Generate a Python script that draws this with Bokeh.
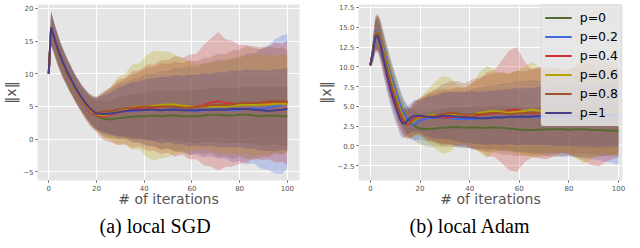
from bokeh.plotting import figure
from bokeh.layouts import row
from bokeh.models import FixedTicker, Title, Legend, LegendItem, Range1d
from bokeh.embed import file_html
from bokeh.resources import INLINE

# ---------------- data ----------------
iterations = [0, 1, 2, 3, 4, 5, 6, 7, 8, 9, 10, 11, 12, 13, 14, 15, 16, 17, 18, 19,
              20, 23, 26, 29, 32, 35, 38, 41, 44, 47, 50, 53, 56, 59, 62, 65, 68, 71,
              74, 77, 80, 83, 86, 89, 92, 95, 98, 100]

series_labels = ["p=0", "p=0.2", "p=0.4", "p=0.6", "p=0.8", "p=1"]
series_colors = ["#556b2f", "#4169e1", "#cd3333", "#b5a400", "#a0522d", "#483d8b"]

# (a) local SGD : mean of ||x|| per iteration
sgd_mean_p0 = [10.0, 16.8, 15.6, 14.4, 13.3, 12.3, 11.4, 10.6, 9.8, 9.1, 8.4, 7.7, 7.1, 6.5, 5.9, 5.4, 4.9, 4.5, 4.1, 3.8,
               3.6, 3.1, 3.0, 3.2, 3.3, 3.4, 3.5, 3.5, 3.6, 3.5, 3.6, 3.6, 3.5, 3.5, 3.5, 3.6, 3.7, 3.7, 3.6, 3.6,
               3.7, 3.7, 3.6, 3.5, 3.6, 3.6, 3.5, 3.5]
sgd_mean_p02 = [10.0, 17.0, 15.8, 14.6, 13.5, 12.5, 11.6, 10.8, 10.0, 9.3, 8.6, 7.9, 7.3, 6.7, 6.1, 5.6, 5.1, 4.7, 4.3, 4.0,
                3.9, 3.8, 4.0, 4.2, 4.3, 4.3, 4.4, 4.5, 4.5, 4.4, 4.5, 4.6, 4.5, 4.4, 4.3, 4.4, 4.5, 4.6, 4.5, 4.4,
                4.5, 4.6, 4.7, 4.6, 4.8, 5.0, 5.3, 5.8]
sgd_mean_p04 = [10.0, 16.9, 15.7, 14.5, 13.4, 12.4, 11.5, 10.7, 9.9, 9.2, 8.5, 7.8, 7.1, 6.5, 5.9, 5.3, 4.8, 4.3, 4.0, 3.8,
                3.6, 3.4, 3.7, 4.1, 4.3, 4.5, 4.7, 4.8, 4.8, 4.9, 5.0, 5.0, 5.0, 4.9, 5.0, 5.2, 5.6, 5.8, 5.5, 5.4,
                5.3, 5.4, 5.5, 5.3, 5.5, 5.6, 5.5, 5.6]
sgd_mean_p06 = [10.0, 16.9, 15.7, 14.5, 13.4, 12.4, 11.5, 10.7, 9.9, 9.2, 8.5, 7.8, 7.2, 6.6, 6.0, 5.5, 5.0, 4.6, 4.2, 4.0,
                3.8, 3.6, 3.9, 4.3, 4.6, 4.9, 5.0, 5.0, 5.1, 5.2, 5.3, 5.3, 5.1, 5.0, 4.9, 5.0, 5.0, 5.0, 5.0, 5.1,
                5.2, 5.3, 5.2, 5.3, 5.3, 5.4, 5.4, 5.4]
sgd_mean_p08 = [10.0, 17.0, 15.8, 14.6, 13.5, 12.5, 11.6, 10.8, 10.0, 9.3, 8.6, 7.9, 7.3, 6.7, 6.2, 5.7, 5.2, 4.8, 4.5, 4.2,
                4.0, 4.2, 4.3, 4.5, 4.7, 4.8, 4.9, 5.0, 4.9, 5.0, 5.0, 4.9, 4.8, 4.8, 4.9, 5.0, 5.2, 5.2, 5.2, 5.3,
                5.5, 5.6, 5.5, 5.6, 5.8, 5.8, 5.8, 5.8]
sgd_mean_p1 = [10.0, 17.1, 15.9, 14.7, 13.6, 12.6, 11.7, 10.9, 10.1, 9.4, 8.7, 8.0, 7.4, 6.8, 6.2, 5.7, 5.2, 4.8, 4.4, 4.1,
               3.9, 3.8, 3.9, 4.1, 4.3, 4.4, 4.4, 4.5, 4.5, 4.4, 4.5, 4.5, 4.4, 4.4, 4.4, 4.5, 4.5, 4.5, 4.5, 4.6,
               4.6, 4.6, 4.5, 4.4, 4.3, 4.4, 4.5, 4.6]

# (a) local SGD : standard deviation (half width of shaded band)
sgd_std_p0 = [0.1, 2.3, 2.2, 2.2, 2.1, 2.1, 2.0, 2.0, 1.9, 1.9, 1.9, 1.9, 1.9, 1.9, 1.9, 2.0, 2.0, 2.1, 2.1, 2.2,
              2.3, 2.7, 2.9, 3.2, 3.3, 3.5, 3.4, 3.6, 3.8, 3.7, 3.9, 3.8, 4.0, 3.9, 4.1, 4.0, 4.2, 4.1, 4.3, 4.2,
              4.2, 4.4, 4.3, 4.5, 4.4, 4.4, 4.6, 4.5]
sgd_std_p02 = [0.1, 2.5, 2.4, 2.3, 2.3, 2.2, 2.2, 2.1, 2.1, 2.1, 2.0, 2.0, 2.0, 2.0, 2.0, 2.1, 2.1, 2.2, 2.3, 2.4,
               2.5, 3.2, 3.5, 4.2, 4.3, 4.9, 5.0, 5.6, 5.5, 6.0, 5.9, 6.4, 6.3, 6.8, 6.7, 7.2, 7.1, 7.6, 7.5, 8.0,
               7.9, 8.5, 8.4, 9.2, 9.5, 10.3, 10.6, 10.3]
sgd_std_p04 = [0.1, 2.5, 2.4, 2.3, 2.3, 2.2, 2.2, 2.1, 2.1, 2.1, 2.0, 2.0, 2.0, 2.0, 2.0, 2.1, 2.1, 2.2, 2.3, 2.4,
               2.6, 3.6, 4.2, 5.0, 5.1, 5.9, 5.8, 6.6, 6.6, 7.2, 7.1, 7.7, 7.4, 8.0, 8.1, 9.2, 9.8, 10.6, 9.8, 9.6,
               9.1, 9.0, 8.4, 8.5, 8.6, 9.2, 9.0, 9.5]
sgd_std_p06 = [0.1, 2.5, 2.4, 2.3, 2.3, 2.2, 2.2, 2.1, 2.1, 2.1, 2.0, 2.0, 2.0, 2.0, 2.0, 2.1, 2.1, 2.2, 2.3, 2.4,
               2.6, 3.4, 4.1, 5.2, 5.4, 6.5, 6.6, 7.8, 8.4, 8.2, 8.1, 7.6, 7.3, 6.7, 6.6, 6.4, 6.9, 6.8, 7.3, 7.1,
               7.6, 7.4, 7.9, 7.6, 7.7, 7.4, 7.6, 7.4]
sgd_std_p08 = [0.1, 2.5, 2.4, 2.3, 2.3, 2.2, 2.2, 2.1, 2.1, 2.1, 2.0, 2.0, 2.0, 2.0, 2.0, 2.1, 2.1, 2.2, 2.3, 2.4,
               2.5, 3.1, 3.6, 4.1, 4.5, 5.1, 5.4, 5.9, 6.1, 6.6, 6.5, 6.9, 6.8, 7.3, 7.0, 7.4, 7.3, 7.9, 7.8, 8.3,
               8.2, 8.6, 8.7, 8.4, 8.5, 8.1, 8.2, 7.8]
sgd_std_p1 = [0.1, 2.4, 2.3, 2.3, 2.2, 2.2, 2.1, 2.1, 2.0, 2.0, 2.0, 2.0, 2.0, 2.0, 2.0, 2.0, 2.1, 2.1, 2.2, 2.3,
              2.4, 2.9, 3.2, 3.7, 3.9, 4.3, 4.4, 4.7, 4.8, 5.1, 5.0, 5.3, 5.2, 5.5, 5.4, 5.6, 5.5, 5.8, 5.7, 5.9,
              5.8, 6.1, 6.0, 6.2, 6.1, 6.3, 6.2, 6.3]

# (b) local Adam : mean of ||x|| per iteration
adam_mean_p0 = [10.2, 12.0, 14.2, 14.4, 13.7, 12.5, 11.3, 10.1, 9.0, 8.0, 7.0, 6.0, 5.1, 4.3, 3.7, 3.2, 2.9, 2.7, 2.5, 2.3,
                2.2, 2.1, 2.2, 2.3, 2.35, 2.4, 2.3, 2.35, 2.3, 2.3, 2.35, 2.3, 2.2, 2.1, 2.0, 2.0, 2.05, 2.1, 2.1, 2.1,
                2.05, 2.1, 2.1, 2.0, 2.0, 1.95, 1.9, 1.9]
adam_mean_p02 = [10.2, 12.1, 14.4, 14.5, 13.8, 12.6, 11.4, 10.2, 9.1, 8.1, 7.1, 6.1, 5.2, 4.4, 3.7, 3.2, 2.8, 2.7, 2.8, 3.0,
                 3.2, 3.5, 3.6, 3.6, 3.5, 3.4, 3.4, 3.4, 3.5, 3.5, 3.6, 3.6, 3.7, 3.7, 3.7, 3.7, 3.6, 3.7, 3.7, 3.7,
                 3.7, 3.8, 3.8, 3.8, 3.8, 3.8, 3.8, 3.8]
adam_mean_p04 = [10.2, 11.9, 14.0, 14.2, 13.2, 11.8, 10.4, 9.1, 7.9, 6.8, 5.8, 4.8, 3.9, 3.2, 2.8, 2.7, 3.0, 3.3, 3.5, 3.6,
                 3.6, 3.7, 3.7, 3.6, 3.6, 3.7, 3.7, 3.8, 3.9, 4.0, 4.1, 4.3, 4.5, 4.6, 4.3, 4.1, 4.2, 4.2, 4.3, 4.3,
                 4.3, 4.4, 4.4, 4.4, 4.4, 4.5, 4.5, 4.5]
adam_mean_p06 = [10.2, 12.0, 14.2, 14.4, 13.6, 12.3, 11.0, 9.8, 8.6, 7.5, 6.5, 5.5, 4.6, 3.8, 3.2, 2.9, 2.8, 3.0, 3.4, 3.6,
                 3.7, 3.8, 3.9, 3.9, 3.9, 4.0, 3.9, 3.9, 4.2, 4.3, 4.4, 4.3, 4.2, 4.3, 4.4, 4.6, 4.4, 4.3, 4.4, 4.4,
                 4.4, 4.3, 4.3, 4.3, 4.4, 4.4, 4.4, 4.4]
adam_mean_p08 = [10.2, 11.9, 14.1, 14.3, 13.4, 12.0, 10.7, 9.4, 8.2, 7.1, 6.1, 5.1, 4.2, 3.5, 3.0, 2.8, 2.8, 3.2, 3.5, 3.7,
                 3.8, 3.7, 3.8, 4.0, 4.2, 4.1, 3.9, 4.0, 4.0, 4.1, 4.2, 4.1, 4.0, 4.1, 4.1, 4.2, 4.2, 4.2, 4.3, 4.3,
                 4.3, 4.3, 4.4, 4.4, 4.4, 4.5, 4.5, 4.5]
adam_mean_p1 = [10.2, 11.8, 13.8, 13.9, 12.8, 11.3, 9.9, 8.5, 7.2, 6.1, 5.1, 4.2, 3.3, 2.8, 2.9, 3.2, 3.5, 3.7, 3.8, 3.8,
                3.8, 3.7, 3.6, 3.8, 3.8, 3.7, 3.6, 3.6, 3.5, 3.5, 3.6, 3.6, 3.7, 3.7, 3.7, 3.7, 3.8, 3.8, 3.8, 3.8,
                3.8, 3.8, 3.8, 3.8, 3.8, 3.9, 3.9, 3.9]

# (b) local Adam : standard deviation (half width of shaded band)
adam_std_p0 = [0.2, 1.3, 2.0, 2.1, 2.1, 2.1, 2.1, 2.1, 2.0, 2.0, 2.0, 1.9, 1.9, 1.8, 1.8, 1.8, 1.8, 1.8, 1.9, 1.9,
               2.0, 2.2, 2.3, 2.4, 2.5, 2.5, 2.6, 2.6, 2.7, 2.7, 2.8, 2.8, 2.8, 2.9, 2.9, 2.9, 3.0, 3.0, 3.0, 3.0,
               3.1, 3.1, 3.1, 3.1, 3.2, 3.2, 3.2, 3.2]
adam_std_p02 = [0.2, 1.4, 2.1, 2.2, 2.2, 2.2, 2.2, 2.2, 2.1, 2.1, 2.0, 2.0, 1.9, 1.9, 1.9, 1.9, 1.9, 2.0, 2.1, 2.2,
                2.4, 2.9, 3.0, 3.3, 3.4, 3.6, 3.5, 3.8, 3.9, 4.1, 4.0, 4.3, 4.2, 4.5, 4.4, 4.7, 4.6, 4.9, 4.8, 5.1,
                5.0, 5.3, 5.4, 5.5, 5.6, 5.8, 6.0, 6.2]
adam_std_p04 = [0.2, 1.3, 2.0, 2.2, 2.2, 2.2, 2.2, 2.2, 2.1, 2.1, 2.0, 2.0, 1.9, 1.8, 1.8, 1.8, 1.9, 2.0, 2.1, 2.2,
                2.3, 2.8, 3.3, 3.6, 3.5, 3.7, 3.6, 4.2, 4.5, 5.3, 5.5, 6.5, 7.6, 7.9, 6.4, 5.6, 5.8, 5.9, 5.6, 5.2,
                5.4, 5.8, 6.3, 6.8, 7.0, 6.5, 6.1, 6.0]
adam_std_p06 = [0.2, 1.3, 2.0, 2.2, 2.2, 2.2, 2.2, 2.2, 2.1, 2.1, 2.0, 2.0, 1.9, 1.8, 1.8, 1.8, 1.9, 2.0, 2.1, 2.2,
                2.4, 3.3, 4.2, 4.9, 4.7, 3.8, 3.6, 3.9, 5.1, 5.8, 5.2, 4.8, 5.0, 5.2, 5.6, 6.0, 5.6, 5.3, 5.4, 5.0,
                5.2, 5.9, 6.5, 6.0, 5.5, 5.4, 5.6, 5.3]
adam_std_p08 = [0.2, 1.3, 2.0, 2.2, 2.2, 2.2, 2.2, 2.2, 2.1, 2.1, 2.0, 2.0, 1.9, 1.8, 1.8, 1.8, 1.9, 2.0, 2.1, 2.2,
                2.3, 3.0, 3.3, 3.8, 3.9, 4.1, 4.0, 4.4, 4.6, 4.9, 5.0, 5.2, 5.1, 5.4, 5.3, 5.5, 5.6, 5.5, 5.7, 5.6,
                5.5, 5.7, 5.8, 5.9, 5.8, 5.7, 5.6, 5.5]
adam_std_p1 = [0.2, 1.3, 2.0, 2.1, 2.1, 2.1, 2.1, 2.1, 2.0, 2.0, 2.0, 1.9, 1.9, 1.8, 1.8, 1.8, 1.8, 1.9, 2.0, 2.0,
               2.1, 2.5, 2.7, 2.9, 3.0, 3.1, 3.2, 3.3, 3.3, 3.4, 3.4, 3.5, 3.5, 3.6, 3.6, 3.6, 3.7, 3.7, 3.8, 3.8,
               3.8, 3.9, 3.9, 3.9, 4.0, 4.0, 4.0, 4.0]

x_ticks = [0, 20, 40, 60, 80, 100]
sgd_y_ticks = [-5, 0, 5, 10, 15, 20]
sgd_y_tick_labels = ["\u22125", "0", "5", "10", "15", "20"]
adam_y_ticks = [-2.5, 0.0, 2.5, 5.0, 7.5, 10.0, 12.5, 15.0, 17.5]
adam_y_tick_labels = ["\u22122.5", "0.0", "2.5", "5.0", "7.5", "10.0", "12.5", "15.0", "17.5"]

sgd_means = [sgd_mean_p0, sgd_mean_p02, sgd_mean_p04, sgd_mean_p06, sgd_mean_p08, sgd_mean_p1]
sgd_stds = [sgd_std_p0, sgd_std_p02, sgd_std_p04, sgd_std_p06, sgd_std_p08, sgd_std_p1]
adam_means = [adam_mean_p0, adam_mean_p02, adam_mean_p04, adam_mean_p06, adam_mean_p08, adam_mean_p1]
adam_stds = [adam_std_p0, adam_std_p02, adam_std_p04, adam_std_p06, adam_std_p08, adam_std_p1]

SANS = "DejaVu Sans"
GREY = "#555555"


def make_panel(means, stds, xr, yr, yticks, ylabels, caption, width, mbl, mbr, with_legend, cap_offset):
    p = figure(width=width, height=240, x_range=Range1d(*xr), y_range=Range1d(*yr),
               output_backend="svg", toolbar_location=None,
               min_border_left=mbl, min_border_right=mbr, min_border_top=4, min_border_bottom=0)
    p.background_fill_color = "#e5e5e5"
    p.border_fill_color = "white"
    p.outline_line_color = None

    for m, s, c in zip(means, stds, series_colors):
        lower = [a - b for a, b in zip(m, s)]
        upper = [a + b for a, b in zip(m, s)]
        p.varea(x=iterations, y1=lower, y2=upper, fill_color=c, fill_alpha=0.26)

    lines = []
    for m, c in zip(means, series_colors):
        lines.append(p.line(iterations, m, line_color=c, line_width=2))

    p.xaxis.ticker = FixedTicker(ticks=x_ticks)
    p.yaxis.ticker = FixedTicker(ticks=yticks)
    p.yaxis.major_label_overrides = {t: l for t, l in zip(yticks, ylabels)}
    for ax in (p.xaxis[0], p.yaxis[0]):
        ax.axis_line_color = None
        ax.major_tick_line_color = GREY
        ax.major_tick_out = 2
        ax.major_tick_in = 0
        ax.minor_tick_line_color = None
        ax.major_label_text_font = SANS
        ax.major_label_text_font_size = "7px"
        ax.major_label_text_color = GREY
        ax.major_label_standoff = 2
        ax.axis_label_text_font = SANS
        ax.axis_label_text_font_style = "normal"
        ax.axis_label_text_color = GREY
    p.xaxis.axis_label = "# of iterations"
    p.xaxis.axis_label_text_font_size = "14px"
    p.xaxis.axis_label_standoff = -3
    p.yaxis.axis_label = "\u2016x\u2016"
    p.yaxis.axis_label_text_font_size = "14px"
    p.yaxis.axis_label_standoff = 1

    p.grid.grid_line_color = "white"
    p.grid.grid_line_width = 1

    if with_legend:
        legend = Legend(items=[LegendItem(label=l, renderers=[r]) for l, r in zip(series_labels, lines)],
                        location="top_right")
        legend.margin = 0
        legend.padding = 3
        legend.spacing = 0
        legend.glyph_width = 27
        legend.glyph_height = 19
        legend.label_height = 19
        legend.label_standoff = 8
        legend.label_text_font = SANS
        legend.label_text_font_size = "12.5px"
        legend.label_text_color = "black"
        legend.background_fill_color = "#e6e6e6"
        legend.background_fill_alpha = 0.85
        legend.border_line_color = "#d4d4d4"
        legend.border_line_width = 1
        legend.border_radius = 3
        p.add_layout(legend)

    p.add_layout(Title(text=caption, align="left", text_font="Liberation Serif",
                       text_font_size="20px", text_font_style="normal", text_color="black",
                       standoff=7, offset=cap_offset), "below")
    return p


p1 = make_panel(sgd_means, sgd_stds, (-4.7, 105.1), (-6.35, 20.6), sgd_y_ticks, sgd_y_tick_labels,
                "(a) local SGD", 310, 0, 11, False, 62)
p2 = make_panel(adam_means, adam_stds, (-4.8, 101.6), (-4.375, 17.875), adam_y_ticks, adam_y_tick_labels,
                "(b) local Adam", 322, 48, 10, True, 51)

layout = row(p1, p2)
open("out.html", "w").write(file_html(layout, INLINE))
